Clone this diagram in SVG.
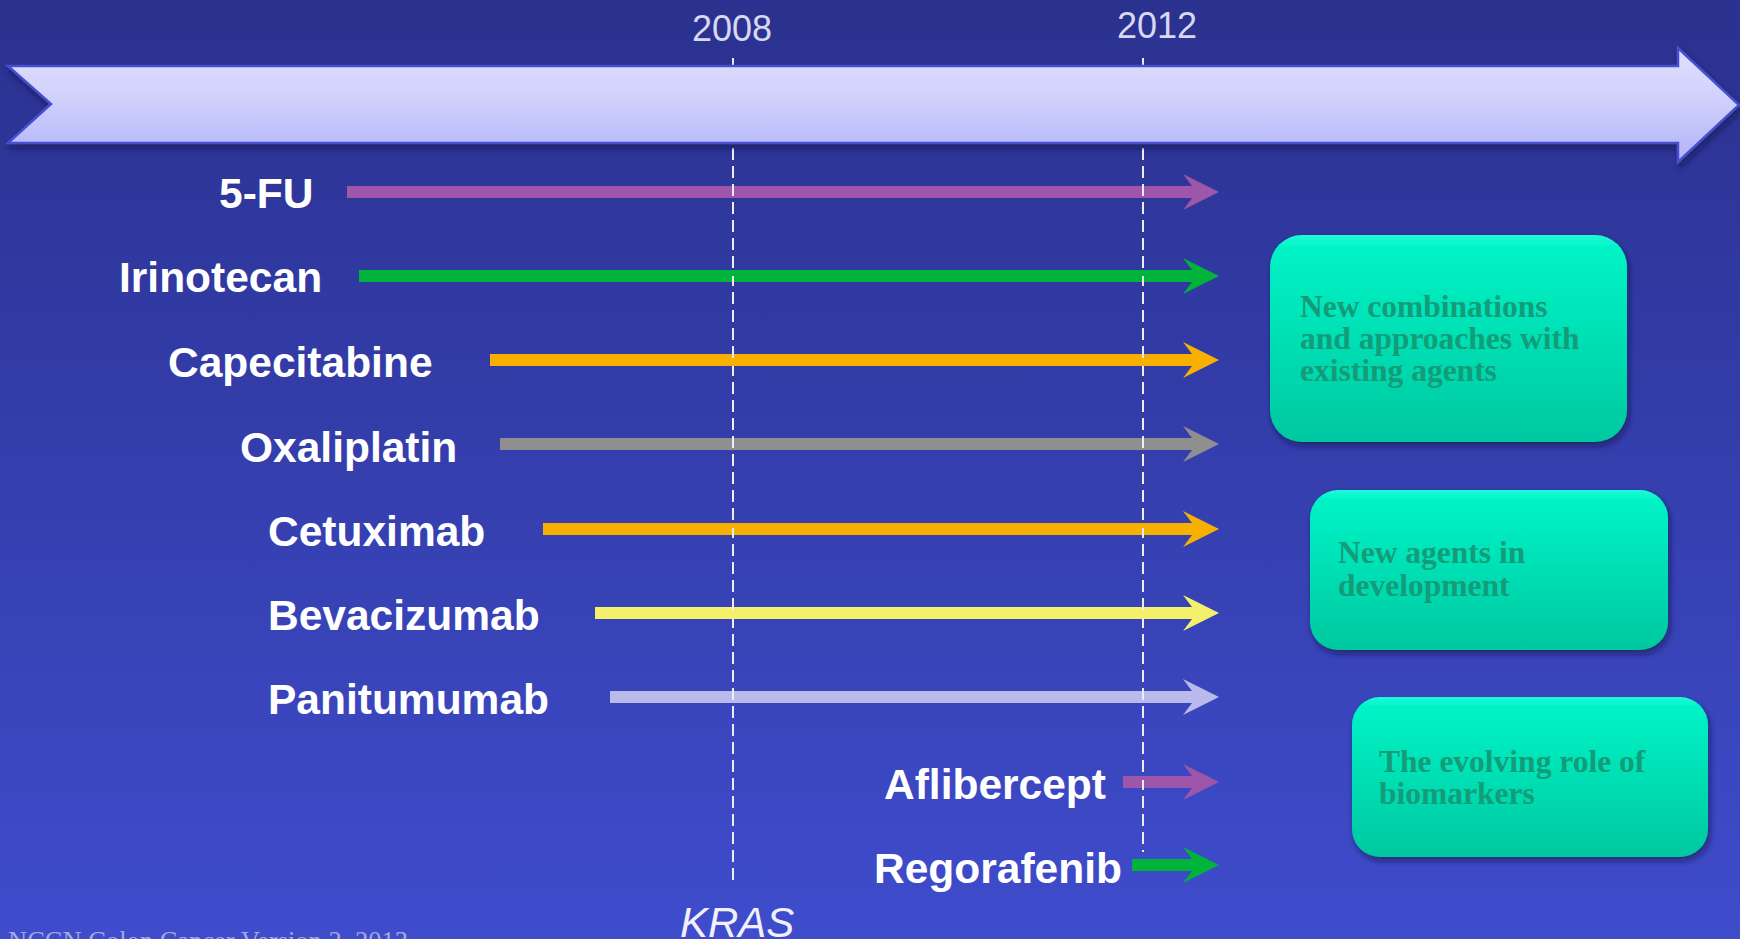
<svg xmlns="http://www.w3.org/2000/svg" width="1740" height="939" viewBox="0 0 1740 939">
<defs>
  <linearGradient id="bg" x1="0" y1="0" x2="0" y2="1">
    <stop offset="0" stop-color="#2a318e"/>
    <stop offset="1" stop-color="#3f4ccc"/>
  </linearGradient>
  <linearGradient id="bigArrow" x1="0" y1="0" x2="0" y2="1">
    <stop offset="0" stop-color="#e0e0ff"/>
    <stop offset="0.45" stop-color="#d0d0fc"/>
    <stop offset="1" stop-color="#b0b3f7"/>
  </linearGradient>
  <linearGradient id="boxFill" x1="0" y1="0" x2="0" y2="1">
    <stop offset="0" stop-color="#1ffadb"/>
    <stop offset="0.06" stop-color="#00f3c6"/>
    <stop offset="1" stop-color="#00c8a0"/>
  </linearGradient>
  <filter id="shadow" x="-10%" y="-10%" width="120%" height="130%">
    <feDropShadow dx="2" dy="4" stdDeviation="3" flood-color="#101040" flood-opacity="0.6"/>
  </filter>
  <style>
    .label { font-family: "Liberation Sans", Arial, sans-serif; font-weight: bold; font-size: 42.5px; fill: #ffffff; }
    .year { font-family: "Liberation Sans", Arial, sans-serif; font-size: 36px; fill: #d8d8f2; text-anchor: middle; }
    .boxtext { font-family: "Liberation Serif", "Times New Roman", serif; font-weight: bold; font-size: 31.5px; fill: #149c79; }
    .box { fill: url(#boxFill); filter: url(#shadow); }
    .dash { stroke: #ececfa; stroke-width: 2; stroke-dasharray: 10 8; fill: none; }
    .purple { fill: #9d56a9; }
    .green { fill: #00b33b; }
    .orange { fill: #f8b000; }
    .gray { fill: #8f8f8f; }
    .yellow { fill: #f5f06c; }
    .lav { fill: #b9b9ec; }
  </style>
</defs>

<rect x="0" y="0" width="1740" height="939" fill="url(#bg)"/>

<!-- dashed year lines (upper part, behind timeline) -->
<g id="year-lines">
  <line class="dash" x1="733" y1="58" x2="733" y2="884"/>
  <line class="dash" x1="1143" y1="58" x2="1143" y2="852"/>
</g>

<!-- timeline arrow -->
<g id="timeline">
  <path d="M8,66 L1678,66 L1678,48 L1739,105 L1678,162 L1678,143 L8,143 L51,104 Z" fill="url(#bigArrow)" stroke="#4650d0" stroke-width="2.5" filter="url(#shadow)"/>
  <text class="year" x="732" y="41">2008</text>
  <text class="year" x="1157" y="38">2012</text>
</g>

<!-- connectors: drug arrows -->
<g id="connectors">
  <path class="purple" d="M347,186 H1192 L1183,174 L1219,192 L1183,210 L1192,198 H347 Z"/>
  <path class="green" d="M359,270 H1192 L1183,258 L1219,276 L1183,294 L1192,282 H359 Z"/>
  <path class="orange" d="M490,354 H1192 L1183,342 L1219,360 L1183,378 L1192,366 H490 Z"/>
  <path class="gray" d="M500,438 H1192 L1183,426 L1219,444 L1183,462 L1192,450 H500 Z"/>
  <path class="orange" d="M543,523 H1192 L1183,511 L1219,529 L1183,547 L1192,535 H543 Z"/>
  <path class="yellow" d="M595,607 H1192 L1183,595 L1219,613 L1183,631 L1192,619 H595 Z"/>
  <path class="lav" d="M610,691 H1192 L1183,679 L1219,697 L1183,715 L1192,703 H610 Z"/>
  <path class="purple" d="M1123,776 H1192 L1183,764 L1219,782 L1183,800 L1192,788 H1123 Z"/>
  <path class="green" d="M1132,859 H1192 L1183,847 L1219,865 L1183,883 L1192,871 H1132 Z"/>
</g>

<!-- dashes drawn over the drug arrows -->
<g id="year-lines-over">
  <line class="dash" x1="733" y1="150" x2="733" y2="884"/>
  <line class="dash" x1="1143" y1="150" x2="1143" y2="852"/>
</g>

<!-- drug labels -->
<g id="node-5fu"><text class="label" x="219" y="208">5-FU</text></g>
<g id="node-irinotecan"><text class="label" x="119" y="292">Irinotecan</text></g>
<g id="node-capecitabine"><text class="label" x="168" y="377">Capecitabine</text></g>
<g id="node-oxaliplatin"><text class="label" x="240" y="462">Oxaliplatin</text></g>
<g id="node-cetuximab"><text class="label" x="268" y="546">Cetuximab</text></g>
<g id="node-bevacizumab"><text class="label" x="268" y="630">Bevacizumab</text></g>
<g id="node-panitumumab"><text class="label" x="268" y="714">Panitumumab</text></g>
<g id="node-aflibercept"><text class="label" x="884" y="799">Aflibercept</text></g>
<g id="node-regorafenib"><text class="label" x="874" y="883">Regorafenib</text></g>

<!-- KRAS -->
<g id="node-kras">
  <text x="680" y="937" font-family="Liberation Sans, Arial, sans-serif" font-style="italic" font-size="42" fill="#f0f0ff">KRAS</text>
</g>

<!-- right boxes -->
<g id="node-box1">
  <rect class="box" x="1270" y="235" width="357" height="207" rx="32" ry="32"/>
  <text class="boxtext" x="1300" y="317">New combinations</text>
  <text class="boxtext" x="1300" y="349">and approaches with</text>
  <text class="boxtext" x="1300" y="381">existing agents</text>
</g>
<g id="node-box2">
  <rect class="box" x="1310" y="490" width="358" height="160" rx="28" ry="28"/>
  <text class="boxtext" x="1338" y="563">New agents in</text>
  <text class="boxtext" x="1338" y="596">development</text>
</g>
<g id="node-box3">
  <rect class="box" x="1352" y="697" width="356" height="160" rx="28" ry="28"/>
  <text class="boxtext" x="1379" y="772">The evolving role of</text>
  <text class="boxtext" x="1379" y="804">biomarkers</text>
</g>

<!-- footer -->
<g id="footer">
  <text x="8" y="950" font-family="Liberation Serif, 'Times New Roman', serif" font-size="26.5" fill="#a4a8e2">NCCN Colon Cancer Version 2. 2013</text>
</g>
</svg>
